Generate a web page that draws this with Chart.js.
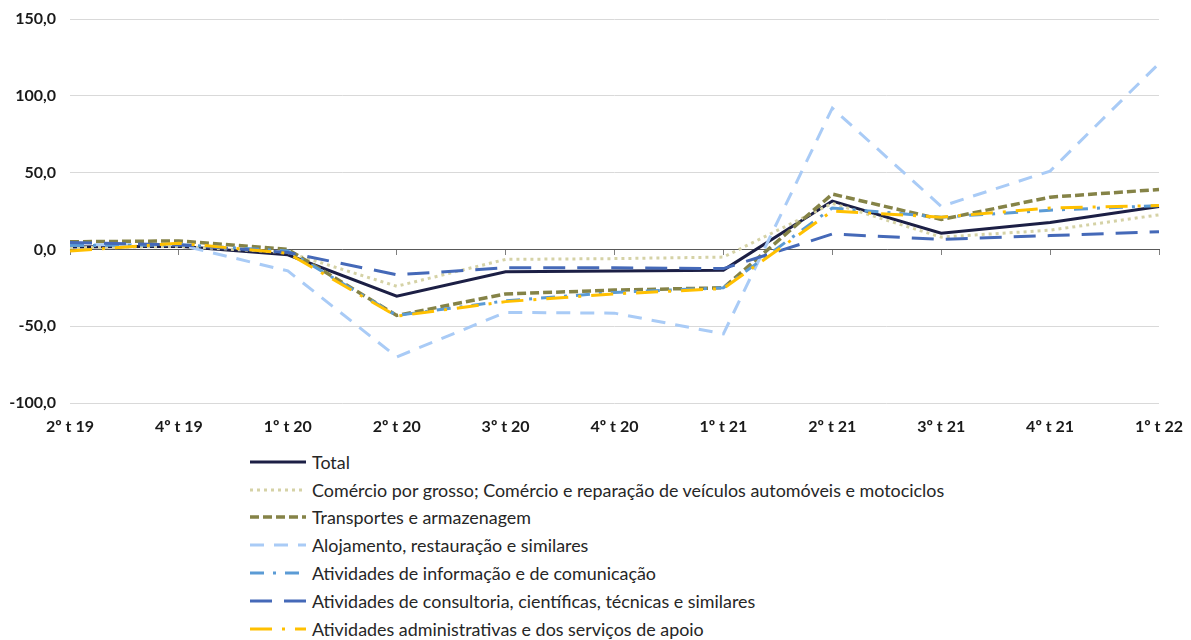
<!DOCTYPE html>
<html>
<head>
<meta charset="utf-8">
<script src="https://cdn.jsdelivr.net/npm/chart.js@4.4.1/dist/chart.umd.min.js"></script>
<style>
  body { margin: 0; background: #fff; font-family: Lato, sans-serif; }
  #wrap { position: relative; width: 1191px; height: 445px; }
  #legend { position: absolute; left: 250px; top: 448px; }
  .item { height: 27.8px; display: flex; align-items: center; font-size: 17.9px; color: #262626; white-space: nowrap; }
  .item svg { margin-right: 6px; }
</style>
</head>
<body>
<div id="wrap"><canvas id="myChart"></canvas></div>
<div id="legend"></div>
<script>
const labels = ['2º t 19', '4º t 19', '1º t 20', '2º t 20', '3º t 20', '4º t 20', '1º t 21', '2º t 21', '3º t 21', '4º t 21', '1º t 22'];

const total = [1.5, 2.0, -3.5, -30.5, -14.5, -14.0, -13.5, 31.5, 10.5, 17.5, 28.0];
const comercio = [1.0, 2.0, -2.0, -24.0, -6.5, -6.0, -5.0, 30.0, 8.0, 12.5, 22.5];
const transportes = [5.0, 5.5, 0.0, -43.0, -29.0, -26.5, -25.0, 36.0, 19.5, 34.0, 39.0];
const alojamento = [3.0, 3.0, -14.0, -70.0, -41.0, -41.5, -55.0, 92.0, 28.0, 51.0, 121.0];
const informacao = [2.5, 3.0, -1.0, -43.0, -33.5, -28.0, -25.0, 27.0, 21.0, 25.5, 28.5];
const consultoria = [4.5, 3.0, -2.0, -16.5, -12.0, -12.0, -12.5, 10.0, 6.5, 9.0, 11.5];
const administrativas = [-1.0, 4.0, -2.5, -43.5, -34.0, -29.0, -25.5, 25.0, 21.0, 27.0, 28.5];

const yMin = -100, yMax = 150, yStep = 50;

const series = [
  { label: 'Total', data: total, color: '#1c1f45', dash: [], width: 3 },
  { label: 'Comércio por grosso; Comércio e reparação de veículos automóveis e motociclos', data: comercio, color: '#d5d2a6', dash: [3, 4], width: 3 },
  { label: 'Transportes e armazenagem', data: transportes, color: '#858347', dash: [9, 4], width: 3.5 },
  { label: 'Alojamento, restauração e similares', data: alojamento, color: '#a9cbf6', dash: [14, 10], width: 3 },
  { label: 'Atividades de informação e de comunicação', data: informacao, color: '#5b9bd5', dash: [14, 9, 3, 9], width: 3 },
  { label: 'Atividades de consultoria, científicas, técnicas e similares', data: consultoria, color: '#4569b8', dash: [22, 12], width: 3 },
  { label: 'Atividades administrativas e dos serviços de apoio', data: administrativas, color: '#ffc000', dash: [22, 10, 3, 10], width: 3 }
];

const tickFont = { family: 'Lato', size: 16, weight: 'bold' };
const ctx = document.getElementById('myChart');

// keep label overflow from pushing the plot area around
function noPad(scale) {
  scale.paddingTop = 0;
  scale.paddingBottom = 0;
  scale.paddingLeft = 0;
  scale.paddingRight = 0;
}

new Chart(ctx, {
  type: 'line',
  data: {
    labels,
    datasets: series.map((s, i) => ({
      label: s.label,
      data: s.data,
      borderColor: s.color,
      backgroundColor: s.color,
      borderWidth: s.width,
      borderDash: s.dash,
      pointRadius: 0,
      tension: 0,
      fill: false,
      order: series.length - i
    }))
  },
  options: {
    responsive: true,
    maintainAspectRatio: false,
    animation: false,
    layout: { padding: { top: 19, right: 32, left: 0, bottom: 0 } },
    plugins: { legend: { display: false }, tooltip: { enabled: false } },
    scales: {
      x: {
        grid: { display: false, drawTicks: false },
        border: { display: false },
        ticks: { padding: 14, maxRotation: 0, autoSkip: false, color: '#1a1a1a', font: tickFont },
        afterFit: (scale) => { scale.height = 42; noPad(scale); }
      },
      x0: {
        type: 'category',
        position: { y: 0 },
        grid: { drawOnChartArea: false, drawTicks: true, tickLength: 5, color: '#7f7f7f' },
        border: { display: true, color: '#595959', width: 1 },
        ticks: { display: false },
        afterFit: noPad
      },
      y: {
        min: yMin,
        max: yMax,
        ticks: {
          stepSize: yStep,
          padding: 14,
          color: '#1a1a1a',
          font: tickFont,
          callback: (v) => v.toFixed(1).replace('.', ',')
        },
        grid: { color: '#d9d9d9', drawTicks: false },
        border: { display: false },
        afterFit: (scale) => { scale.width = 70; noPad(scale); }
      }
    }
  }
});

const legend = document.getElementById('legend');
series.forEach((s) => {
  const row = document.createElement('div');
  row.className = 'item';
  row.innerHTML = '<svg width="56" height="10"><line x1="0" y1="5" x2="56" y2="5" stroke="' + s.color +
    '" stroke-width="' + s.width + '" stroke-dasharray="' + (s.dash.length ? s.dash.join(' ') : 'none') + '"/></svg>' +
    '<span>' + s.label + '</span>';
  legend.appendChild(row);
});
</script>
</body>
</html>
